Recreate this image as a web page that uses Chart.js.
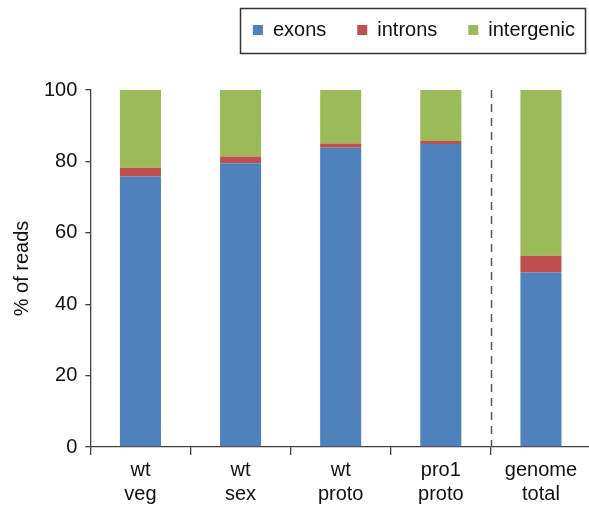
<!DOCTYPE html>
<html>
<head>
<meta charset="utf-8">
<script src="https://cdn.jsdelivr.net/npm/chart.js@4/dist/chart.umd.min.js"></script>
<style>
  html, body { margin: 0; padding: 0; background: #fff; overflow: hidden; width: 589px; height: 509px; }
  canvas { display: block; }
</style>
</head>
<body>
<canvas id="c" width="600" height="509" style="width:600px;height:509px"></canvas>
<script>
const categories = [["wt", "veg"], ["wt", "sex"], ["wt", "proto"], ["pro1", "proto"], ["genome", "total"]];
const exons = [75.8, 79.5, 83.8, 84.9, 48.9];
const introns = [2.4, 1.9, 1.2, 0.8, 4.7];
const intergenic = [21.8, 18.6, 15.0, 14.3, 46.4];
const yTicks = [0, 20, 40, 60, 80, 100];

const FONT = "'Liberation Sans', Arial, sans-serif";
const AXIS = '#404040';

const legendShift = {
  id: 'legendShift',
  afterLayout(chart) {
    const l = chart.legend;
    const dx = 15, dy = -40;
    l.left += dx; l.right += dx; l.top += dy; l.bottom += dy;
  }
};

const legendBorder = {
  id: 'legendBorder',
  afterDraw(chart) {
    const hb = chart.legend.legendHitBoxes;
    if (!hb || !hb.length) return;
    const first = hb[0], last = hb[hb.length - 1];
    const x0 = first.left - 13, x1 = last.left + last.width + 10;
    const cy = first.top + first.height / 2;
    const ctx = chart.ctx;
    ctx.save();
    ctx.strokeStyle = '#333';
    ctx.lineWidth = 1.5;
    ctx.strokeRect(Math.round(x0) + 0.5, Math.round(cy - 22) + 0.5, Math.round(x1 - x0), 45);
    ctx.restore();
  }
};

const divider = {
  id: 'divider',
  afterDatasetsDraw(chart) {
    const xs = chart.scales.x, ys = chart.scales.y;
    const x = (xs.getPixelForValue(3) + xs.getPixelForValue(4)) / 2;
    const ctx = chart.ctx;
    ctx.save();
    ctx.strokeStyle = '#555';
    ctx.lineWidth = 1.5;
    ctx.setLineDash([8, 6]);
    ctx.beginPath();
    ctx.moveTo(Math.round(x) + 0.5, ys.getPixelForValue(100));
    ctx.lineTo(Math.round(x) + 0.5, ys.getPixelForValue(0));
    ctx.stroke();
    ctx.restore();
  }
};

new Chart(document.getElementById('c'), {
  type: 'bar',
  data: {
    labels: categories,
    datasets: [
      { label: 'exons', data: exons, backgroundColor: '#4F81BD' },
      { label: 'introns', data: introns, backgroundColor: '#C0504D' },
      { label: 'intergenic', data: intergenic, backgroundColor: '#9BBB59' }
    ]
  },
  options: {
    responsive: false,
    animation: false,
    devicePixelRatio: 1,
    layout: { padding: { top: 29, right: 9, left: 10, bottom: 0 } },
    datasets: { bar: { categoryPercentage: 1.0, barPercentage: 0.41, borderWidth: 0 } },
    plugins: {
      tooltip: { enabled: false },
      legend: {
        position: 'top',
        align: 'end',
        labels: {
          boxWidth: 10,
          boxHeight: 10,
          padding: 31,
          color: '#111',
          font: { family: FONT, size: 20 }
        }
      }
    },
    scales: {
      x: {
        stacked: true,
        border: { color: AXIS, width: 1.3 },
        grid: { offset: true, drawOnChartArea: false, drawTicks: true, tickLength: 8, color: AXIS, lineWidth: 1.3 },
        ticks: { color: '#111', font: { family: FONT, size: 20 }, padding: 3, maxRotation: 0, autoSkip: false }
      },
      y: {
        stacked: true,
        min: 0,
        max: 100,
        afterBuildTicks(scale) { scale.ticks = yTicks.map(v => ({ value: v })); },
        border: { color: AXIS, width: 1.3 },
        grid: { drawOnChartArea: false, drawTicks: true, tickLength: 5, color: AXIS, lineWidth: 1.3 },
        ticks: { color: '#111', font: { family: FONT, size: 20 }, padding: 8 },
        title: { display: true, text: '% of reads', color: '#111', font: { family: FONT, size: 20 }, padding: { top: 0, bottom: 2 } }
      }
    }
  },
  plugins: [legendShift, legendBorder, divider]
});
</script>
</body>
</html>
